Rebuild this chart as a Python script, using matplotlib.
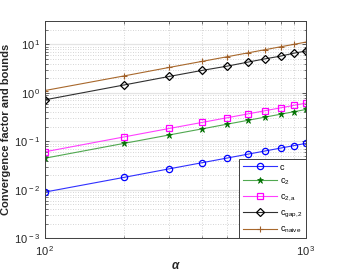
import matplotlib
matplotlib.use("Agg")
import matplotlib.pyplot as plt
from matplotlib.ticker import LogLocator, FixedLocator, NullFormatter

plt.rcParams['font.family'] = ['Liberation Sans', 'DejaVu Sans']
plt.rcParams['mathtext.fontset'] = 'custom'
plt.rcParams['mathtext.rm'] = 'Liberation Sans'
plt.rcParams['mathtext.it'] = 'Liberation Sans'
plt.rcParams['mathtext.bf'] = 'Liberation Sans:bold'

alpha = [100, 200, 300, 400, 500, 600, 700, 800, 900, 1000]
c = [0.0090, 0.0180, 0.0272, 0.0363, 0.0454, 0.0545, 0.0636, 0.0727, 0.0818, 0.0910]
c2 = [0.0450, 0.0905, 0.136, 0.181, 0.227, 0.272, 0.318, 0.363, 0.409, 0.455]
c2a = [0.061, 0.123, 0.185, 0.246, 0.308, 0.369, 0.431, 0.492, 0.554, 0.615]
cgap2 = [0.72, 1.45, 2.19, 2.91, 3.57, 4.32, 5.06, 5.74, 6.60, 7.30]
cnaive = [1.12, 2.23, 3.36, 4.47, 5.58, 6.70, 7.82, 8.94, 10.05, 11.17]

series = [
    (c, 'c', dict(color='#3030ff', marker='o', mfc='none', mec='#0000ff', ms=4.5, mew=0.9)),
    (c2, r'c$_{\mathrm{2}}$', dict(color='#50a850', marker='*', mfc='#007000', mec='#007000', ms=4.5, mew=0.5)),
    (c2a, r'c$_{\mathrm{2,a}}$', dict(color='#ff40ff', marker='s', mfc='none', mec='#ff00ff', ms=4.0, mew=0.9)),
    (cgap2, r'c$_{\mathrm{gap,2}}$', dict(color='#303030', marker='D', mfc='none', mec='#000000', ms=4.2, mew=0.9)),
    (cnaive, r'c$_{\mathrm{naive}}$', dict(color='#a8682c', marker='+', mfc='none', mec='#a0602a', ms=5.0, mew=0.8)),
]

fig = plt.figure(figsize=(3.38, 2.73), dpi=100)
ax = fig.add_axes([0.133, 0.127, 0.772, 0.797])

for vals, lab, st in series:
    ax.plot(alpha, vals, lw=0.8, label=lab, **st)

ax.set_xscale('log')
ax.set_yscale('log')
ax.set_xlim(100, 1000)
ax.set_ylim(1e-3, 30.8)

ax.xaxis.set_major_locator(FixedLocator([100, 1000]))
ax.set_xticklabels([r'$10^{\,2}$', r'$10^{\,3}$'])
ax.xaxis.set_minor_locator(FixedLocator([200, 300, 400, 500, 600, 700, 800, 900]))
ax.xaxis.set_minor_formatter(NullFormatter())
ax.yaxis.set_major_locator(FixedLocator([1e-3, 1e-2, 1e-1, 1e0, 1e1]))
ax.set_yticklabels([r'$10^{\,-3}$', r'$10^{\,-2}$', r'$10^{\,-1}$', r'$10^{\,0}$', r'$10^{\,1}$'])
ax.yaxis.set_minor_locator(LogLocator(base=10, subs=range(2, 10), numticks=20))
ax.yaxis.set_minor_formatter(NullFormatter())

ax.grid(True, which='major', color='#e4e4e4', lw=0.9, ls='-')
ax.grid(True, which='minor', color='#c8c8c8', lw=0.6, ls=(0, (1, 2)))
ax.set_axisbelow(True)

ax.tick_params(which='both', direction='in', top=True, right=True, colors='#404040', labelcolor='#262626', labelsize=8)
ax.tick_params(which='major', length=3, width=0.6)
ax.tick_params(which='minor', length=1.8, width=0.5)
ax.tick_params(axis='x', pad=4)
ax.tick_params(axis='y', pad=3)
for s in ax.spines.values():
    s.set_color('#404040')
    s.set_linewidth(0.7)

ax.set_ylabel('Convergence factor and bounds', fontsize=8, fontweight='bold', color='#262626', labelpad=2)
ax.set_xlabel('α', fontsize=8.5, fontweight='bold', style='italic', color='#262626', labelpad=2)

leg = ax.legend(loc='lower right', fontsize=6.5, frameon=True, fancybox=False, borderaxespad=0,
                handlelength=3.8, handletextpad=0.3, labelspacing=0.55, borderpad=0.35)
leg.get_frame().set_edgecolor('#404040')
leg.get_frame().set_linewidth(0.7)
leg.get_frame().set_alpha(1)

fig.savefig('out.png', dpi=100, facecolor='white')
